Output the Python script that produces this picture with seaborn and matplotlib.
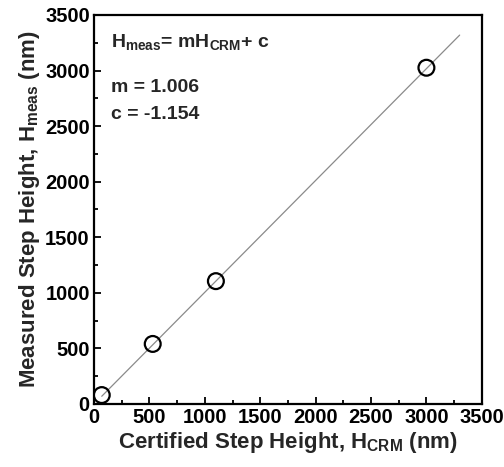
import numpy as np
import pandas as pd
import seaborn as sns
import matplotlib
matplotlib.use('Agg')
import matplotlib.pyplot as plt

# data
h_crm = [70, 530, 1100, 3000]
h_meas = [80, 540, 1105, 3025]
slope = 1.006
intercept = -1.154
fit_x = [70, 3300]

sns.set_style("ticks")
plt.rcParams['font.family'] = ['Liberation Sans', 'DejaVu Sans']
plt.rcParams['font.weight'] = 'bold'
plt.rcParams['axes.labelweight'] = 'bold'
plt.rcParams['mathtext.fontset'] = 'custom'
plt.rcParams['mathtext.rm'] = 'Liberation Sans:bold'
plt.rcParams['mathtext.it'] = 'Liberation Sans:bold'
plt.rcParams['mathtext.bf'] = 'Liberation Sans:bold'

df = pd.DataFrame({'x': h_crm, 'y': h_meas})
fit = pd.DataFrame({'x': fit_x, 'y': [slope * v + intercept for v in fit_x]})

fig = plt.figure(figsize=(5.04, 4.67), dpi=100)
ax = fig.add_axes([0.1865, 0.135, 0.7695, 0.833])

sns.lineplot(data=fit, x='x', y='y', ax=ax, color='#8a8a8a', linewidth=0.9)
sns.scatterplot(data=df, x='x', y='y', ax=ax, marker='o', s=130,
                facecolor='none', edgecolor='black', linewidth=1.6, zorder=3)

ax.set_xlim(0, 3500)
ax.set_ylim(0, 3500)
ax.set_xticks(np.arange(0, 3501, 500))
ax.set_yticks(np.arange(0, 3501, 500))
ax.set_xticks(np.arange(250, 3500, 500), minor=True)
ax.set_yticks(np.arange(250, 3500, 500), minor=True)
ax.tick_params(which='both', direction='in', top=False, right=False,
               labelsize=14.5, width=1.3, colors='black')
ax.tick_params(which='major', length=5, pad=3)
ax.tick_params(which='minor', length=3)
for s in ax.spines.values():
    s.set_linewidth(1.6)
    s.set_color('black')

ax.set_xlabel(r'Certified Step Height, H$_{\mathrm{CRM}}$ (nm)', fontsize=16, labelpad=2)
ax.set_ylabel(r'Measured Step Height, H$_{\mathrm{meas}}$ (nm)', fontsize=16, labelpad=2)

ax.text(150, 3260, r'H$_{\mathrm{meas}}$= mH$_{\mathrm{CRM}}$+ c', fontsize=14,
        fontweight='bold', va='center')
ax.text(150, 2845, 'm = 1.006', fontsize=14, fontweight='bold', va='center')
ax.text(150, 2600, 'c = -1.154', fontsize=14, fontweight='bold', va='center')

fig.savefig('out.png', dpi=100)
